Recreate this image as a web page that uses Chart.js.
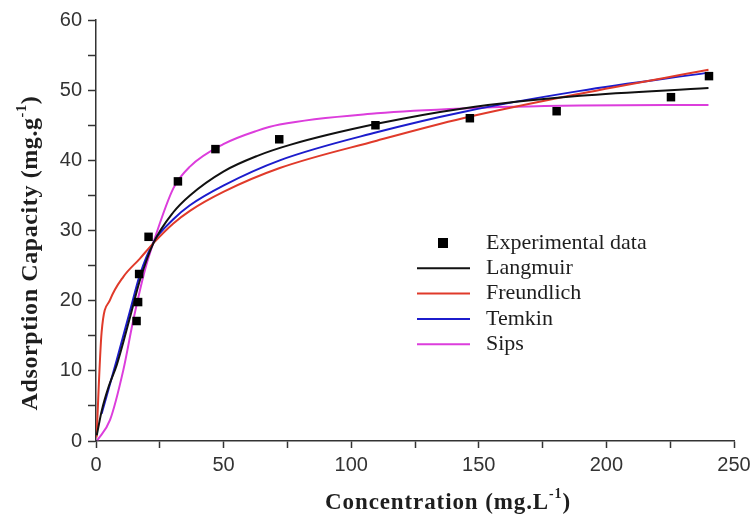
<!DOCTYPE html>
<html>
<head>
<meta charset="utf-8">
<script src="https://cdn.jsdelivr.net/npm/chart.js@4"></script>
<style>
  body { margin: 0; background: #fff; }
  #caixa { width: 753px; height: 520px; }
</style>
</head>
<body>
<div id="caixa"><canvas id="grafico"></canvas></div>
<script>
// dados experimentais
const concExp = [15.9, 16.5, 16.9, 20.6, 32.1, 46.8, 71.8, 109.5, 146.5, 180.5, 225.3, 240.2];
const qExp = [17.1, 19.8, 23.8, 29.1, 37.0, 41.6, 43.0, 45.0, 46.0, 47.0, 49.0, 52.0];

// curvas dos modelos
const concLangmuir = [0.3, 2.3, 5, 8.1, 13.3, 17.2, 22.5, 30.3, 36.8, 49.9, 63, 76, 110, 143.8, 189.7, 240];
const qLangmuir = [0.8, 4.4, 7.8, 10.8, 17.6, 22.9, 28.2, 32.6, 35.0, 38.4, 40.6, 42.2, 45.2, 47.4, 49.2, 50.3];

const concFreundlich = [0.2, 2.2, 5.5, 10.7, 17.2, 22.5, 30.3, 36.8, 49.9, 72, 110, 143.8, 189.7, 240];
const qFreundlich = [0.5, 15.5, 20.1, 23.4, 26.0, 28.2, 31.0, 32.8, 35.5, 38.9, 42.8, 46.0, 49.5, 52.9];

const concTemkin = [2.2, 8.1, 13.3, 17.2, 22.5, 30.3, 36.8, 49.9, 72, 110, 143.8, 189.7, 240];
const qTemkin = [3.9, 11.5, 18.5, 23.7, 28.3, 31.6, 33.6, 36.4, 40.0, 44.0, 46.9, 49.9, 52.5];

const concSips = [0.5, 5.5, 10.7, 14.6, 19.2, 22.5, 30.3, 36.8, 49.9, 63, 72, 110, 143.8, 189.7, 240];
const qSips = [0.1, 3.0, 10.1, 17.2, 24.4, 28.3, 36.0, 39.1, 42.3, 44.2, 45.1, 46.7, 47.4, 47.8, 47.9];

const ticksX = [0, 50, 100, 150, 200, 250];
const ticksY = [0, 10, 20, 30, 40, 50, 60];

const fonteSans = "'Liberation Sans', Arial, sans-serif";
const fonteSerif = "'Liberation Serif', 'Times New Roman', serif";

function pares(xs, ys) {
  return xs.map((x, i) => ({ x: x, y: ys[i] }));
}

function curva(label, xs, ys, cor) {
  return {
    type: "line",
    label: label,
    data: pares(xs, ys),
    borderColor: cor,
    backgroundColor: cor,
    borderWidth: 2,
    pointRadius: 0,
    fill: false,
    cubicInterpolationMode: "monotone",
  };
}

// titulo com expoente
function escreverTitulo(ctx, partes, tamanho, espaco) {
  ctx.letterSpacing = espaco + "px";
  let largura = 0;
  partes.forEach((p) => {
    ctx.font = "bold " + (p.sup ? tamanho * 0.6 : tamanho) + "px " + fonteSerif;
    p.w = ctx.measureText(p.t).width;
    largura += p.w;
  });
  let x = -largura / 2;
  partes.forEach((p) => {
    ctx.font = "bold " + (p.sup ? tamanho * 0.6 : tamanho) + "px " + fonteSerif;
    ctx.fillText(p.t, x, p.sup ? -tamanho * 0.38 : 0);
    x += p.w;
  });
}

const extras = {
  id: "extras",
  afterDraw(chart) {
    const ctx = chart.ctx;
    ctx.save();
    ctx.fillStyle = "#1e1e1e";
    ctx.textBaseline = "middle";
    ctx.textAlign = "left";

    // titulo eixo y
    ctx.save();
    ctx.translate(31, 253);
    ctx.rotate(-Math.PI / 2);
    escreverTitulo(ctx, [
      { t: "Adsorption Capacity (mg.g" },
      { t: "-1", sup: true },
      { t: ")" },
    ], 24, 0.6);
    ctx.restore();

    // titulo eixo x
    ctx.save();
    ctx.translate(448, 503);
    escreverTitulo(ctx, [
      { t: "Concentration (mg.L" },
      { t: "-1", sup: true },
      { t: ")" },
    ], 23, 0.9);
    ctx.restore();

    // legenda
    ctx.letterSpacing = "0px";
    ctx.font = "22px " + fonteSerif;
    chart.data.datasets.forEach((ds, i) => {
      const y = 243 + i * 25.3;
      if (i === 0) {
        ctx.fillStyle = "#000";
        ctx.fillRect(438, y - 5, 10, 10);
      } else {
        ctx.strokeStyle = ds.borderColor;
        ctx.lineWidth = 2;
        ctx.beginPath();
        ctx.moveTo(417, y);
        ctx.lineTo(470, y);
        ctx.stroke();
      }
      ctx.fillStyle = "#1e1e1e";
      ctx.fillText(ds.label, 486, y);
    });
    ctx.restore();
  },
};

const grafico = document.querySelector("#grafico");

new Chart(grafico, {
  type: "scatter",
  data: {
    datasets: [
      {
        type: "scatter",
        label: "Experimental data",
        data: pares(concExp, qExp),
        pointStyle: "rect",
        pointRadius: 6,
        pointHoverRadius: 6,
        backgroundColor: "#000",
        borderColor: "#000",
        borderWidth: 0,
      },
      curva("Langmuir", concLangmuir, qLangmuir, "#111111"),
      curva("Freundlich", concFreundlich, qFreundlich, "#e03a2a"),
      curva("Temkin", concTemkin, qTemkin, "#1c1ccc"),
      curva("Sips", concSips, qSips, "#dc3ddc"),
    ],
  },
  options: {
    responsive: true,
    maintainAspectRatio: false,
    animation: false,
    devicePixelRatio: 1,
    layout: { padding: { top: 20, right: 19, left: 0, bottom: 0 } },
    plugins: {
      legend: { display: false },
      tooltip: { enabled: false },
    },
    scales: {
      x: {
        type: "linear",
        min: 0,
        max: 250,
        afterFit: (s) => {
          s.height = 79;
          s.paddingRight = 0;
          s.paddingLeft = 0;
        },
        ticks: {
          stepSize: 25,
          autoSkip: false,
          maxRotation: 0,
          padding: 5,
          color: "#333",
          font: { family: fonteSans, size: 20 },
          callback: (v) => (ticksX.includes(v) ? v : ""),
        },
        grid: {
          drawOnChartArea: false,
          drawTicks: true,
          tickLength: 7,
          tickColor: "#333",
          tickWidth: 1.5,
        },
        border: { color: "#333", width: 1.5 },
      },
      y: {
        min: 0,
        max: 60,
        afterFit: (s) => {
          s.width = 96;
          s.paddingTop = 0;
          s.paddingBottom = 0;
        },
        ticks: {
          stepSize: 5,
          autoSkip: false,
          padding: 6,
          color: "#333",
          font: { family: fonteSans, size: 20 },
          callback: (v) => (ticksY.includes(v) ? v : ""),
        },
        grid: {
          drawOnChartArea: false,
          drawTicks: true,
          tickLength: 8,
          tickColor: "#333",
          tickWidth: 1.5,
        },
        border: { color: "#333", width: 1.5 },
      },
    },
  },
  plugins: [extras],
});
</script>
</body>
</html>
